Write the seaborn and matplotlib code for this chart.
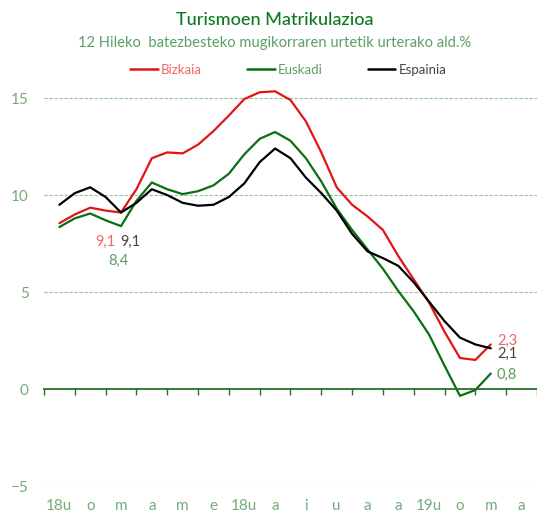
import numpy as np
import pandas as pd
import seaborn as sns
import matplotlib.pyplot as plt

# month labels (Basque abbreviations) as they appear on the chart
months = ["18u", "o", "m", "a", "m", "e", "18u", "a", "i", "u", "a", "a", "19u", "o", "m", "a"]

# values every half month, 18u .. m
steps = np.arange(0, 14.5, 0.5)
bizkaia = [8.55, 9.0, 9.35, 9.2, 9.1, 10.3, 11.9, 12.2, 12.15, 12.6, 13.3, 14.1, 14.95, 15.3, 15.35,
           14.9, 13.8, 12.2, 10.4, 9.5, 8.9, 8.2, 6.85, 5.65, 4.45, 2.95, 1.6, 1.5, 2.3]
euskadi = [8.35, 8.8, 9.05, 8.7, 8.4, 9.7, 10.65, 10.3, 10.05, 10.2, 10.5, 11.1, 12.1, 12.9, 13.25,
           12.8, 11.9, 10.7, 9.3, 8.2, 7.2, 6.2, 5.05, 4.0, 2.8, 1.2, -0.35, -0.05, 0.8]
espainia = [9.5, 10.1, 10.4, 9.9, 9.1, 9.6, 10.3, 10.0, 9.6, 9.45, 9.5, 9.9, 10.6, 11.7, 12.4,
            11.9, 10.9, 10.1, 9.2, 8.0, 7.1, 6.75, 6.35, 5.5, 4.5, 3.5, 2.65, 2.3, 2.1]

series = {"Bizkaia": bizkaia, "Euskadi": euskadi, "Espainia": espainia}
line_cols = {"Bizkaia": "#e31414", "Euskadi": "#0a6e14", "Espainia": "#000000"}
text_cols = {"Bizkaia": "#f06464", "Euskadi": "#5a9e62", "Espainia": "#444444"}

df = pd.DataFrame({"x": steps, **series})
df = df.melt(id_vars="x", var_name="serie", value_name="val")

sns.set_style("white")
plt.rcParams["font.family"] = ["Lato", "DejaVu Sans"]

fig = plt.figure(figsize=(5.37, 5.13), dpi=100)
ax = fig.add_axes([0.0819, 0.0526, 0.9181, 0.8129])

g = sns.lineplot(data=df, x="x", y="val", hue="serie", palette=line_cols, linewidth=1.6, ax=ax, legend=False)

ax.set_xlim(-0.5, 15.13)
ax.set_ylim(-5, 16.5)
ax.set_xlabel("")
ax.set_ylabel("")

# y axis: dashed light green grid
ax.set_yticks([-5, 0, 5, 10, 15])
ax.tick_params(axis="y", length=0, pad=11, labelsize=11, labelcolor="#72ac79")
for v in [-5, 5, 10, 15]:
    ax.axhline(v, color="#8ec49a", lw=0.8, ls=(0, (3, 1.5)), zorder=0)

for s in ["top", "right", "left"]:
    ax.spines[s].set_visible(False)
ax.spines["bottom"].set_position(("data", 0))
ax.spines["bottom"].set_color("#2a6e2a")
ax.spines["bottom"].set_linewidth(1.3)
ax.set_xticks(np.arange(-0.5, 16, 1))
ax.tick_params(axis="x", direction="out", length=4, width=1, color="#2a6e2a", labelbottom=False, bottom=True)

# month labels at the bottom
sec = ax.secondary_xaxis(0.0)
sec.set_xticks(range(len(months)))
sec.set_xticklabels(months)
sec.tick_params(length=0, pad=9, labelsize=11, labelcolor="#72ac79")
sec.spines["bottom"].set_visible(False)

# value labels
fmt = lambda v: f"{v:.1f}".replace(".", ",")
ax.text(1.5, 7.6, fmt(bizkaia[4]), color=text_cols["Bizkaia"], fontsize=10.5, ha="center", va="center")
ax.text(2.3, 7.6, fmt(espainia[4]), color=text_cols["Espainia"], fontsize=10.5, ha="center", va="center")
ax.text(1.9, 6.6, fmt(euskadi[4]), color=text_cols["Euskadi"], fontsize=10.5, ha="center", va="center")
ax.text(14.2, 2.5, fmt(bizkaia[-1]), color=text_cols["Bizkaia"], fontsize=10.5, ha="left", va="center")
ax.text(14.2, 1.8, fmt(espainia[-1]), color=text_cols["Espainia"], fontsize=10.5, ha="left", va="center")
ax.text(14.2, 0.75, fmt(euskadi[-1]), color=text_cols["Euskadi"], fontsize=10.5, ha="left", va="center")

# legend
handles = [plt.Line2D([], [], color=line_cols[k], lw=1.8) for k in series]
fig.legend(handles, list(series), loc="center", bbox_to_anchor=(0.537, 0.864), ncol=3, frameon=False,
           fontsize=9.5, handlelength=2.1, handletextpad=0.25, columnspacing=3.4,
           labelcolor=[text_cols[k] for k in series])

fig.text(0.512, 0.961, "Turismoen Matrikulazioa", ha="center", va="center", fontsize=13,
         color="#0b7a1f", fontweight="medium")
fig.text(0.512, 0.916, "12 Hileko  batezbesteko mugikorraren urtetik urterako ald.%", ha="center",
         va="center", fontsize=10.6, color="#5aa064")

plt.savefig("out.png", dpi=100)
